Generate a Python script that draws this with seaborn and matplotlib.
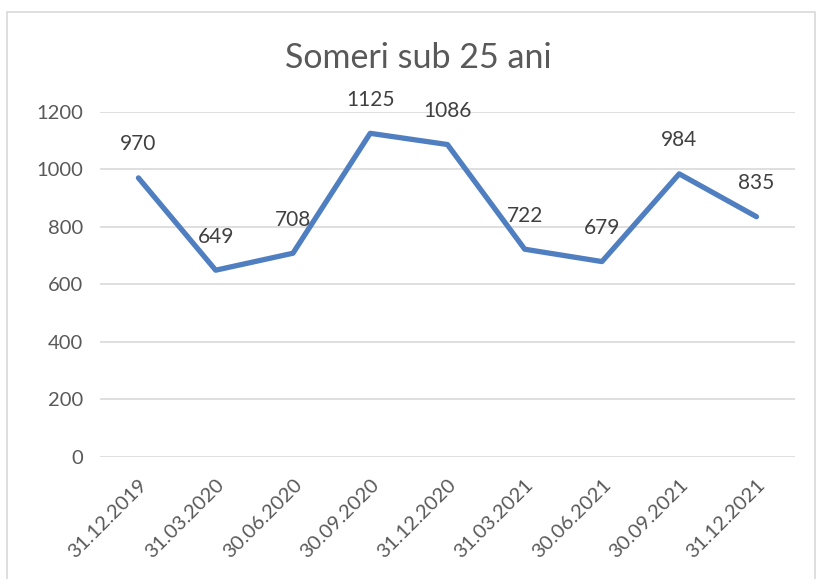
import matplotlib
matplotlib.use("Agg")
import matplotlib.pyplot as plt
import seaborn as sns
import pandas as pd
from matplotlib.patches import Rectangle

dates = ["31.12.2019", "31.03.2020", "30.06.2020", "30.09.2020", "31.12.2020",
         "31.03.2021", "30.06.2021", "30.09.2021", "31.12.2021"]
someri = [970, 649, 708, 1125, 1086, 722, 679, 984, 835]
y_ticks = [0, 200, 400, 600, 800, 1000, 1200]

sns.set_style("white")
plt.rcParams["font.family"] = ["Lato", "DejaVu Sans"]

df = pd.DataFrame({"Data": dates, "Someri": someri})
df["pos"] = range(len(df))

fig = plt.figure(figsize=(8.18, 5.79), dpi=100)
ax = fig.add_axes([0.122, 0.211, 0.85, 0.596])

sns.lineplot(data=df, x="pos", y="Someri", ax=ax, color="#4F7FC0",
             linewidth=3.8, solid_joinstyle="round", solid_capstyle="round")

for i, v in zip(df["pos"], df["Someri"]):
    ax.annotate(str(v), (i, v), xytext=(0, 17), textcoords="offset points",
                ha="center", va="bottom", fontsize=15, color="#404040")

ax.set_xlim(-0.5, len(dates) - 0.5)
ax.set_ylim(0, 1200)
ax.set_yticks(y_ticks)
ax.set_yticklabels([str(t) for t in y_ticks], fontsize=14.5, color="#595959")
ax.set_xticks(df["pos"])
ax.set_xticklabels(dates, rotation=45, ha="right", rotation_mode="anchor",
                   fontsize=14.5, color="#595959")
ax.tick_params(axis="y", length=0, pad=12)
ax.tick_params(axis="x", length=0, pad=14)
ax.grid(axis="y", color="#D9D9D9", linewidth=1.2)
for s in ax.spines.values():
    s.set_visible(False)
ax.set_xlabel("")
ax.set_ylabel("")

fig.text(0.511, 0.9, "Someri sub 25 ani", ha="center", va="center",
         fontsize=24.5, color="#595959")

fig.patches.append(Rectangle((0.008, -0.01), 0.988, 0.99, transform=fig.transFigure,
                             fill=False, edgecolor="#D9D9D9", linewidth=1.2))

fig.savefig("out.png", dpi=100)
